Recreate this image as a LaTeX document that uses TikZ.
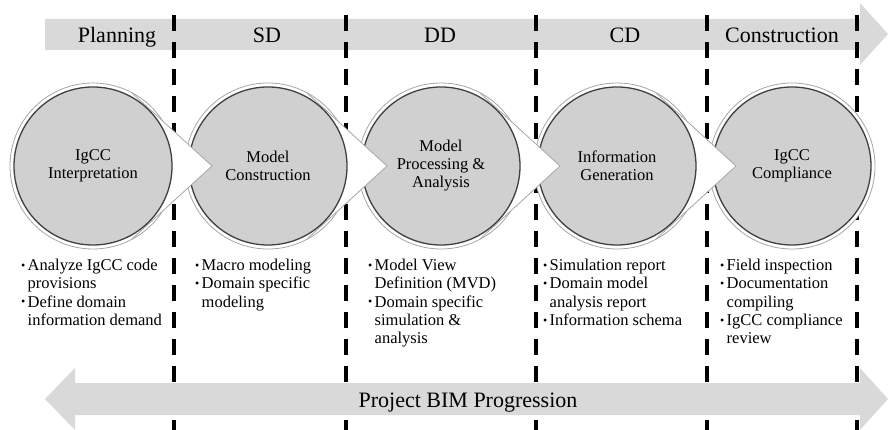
\documentclass[tikz,border=0pt]{standalone}
\usepackage{fontspec}
\setmainfont{Liberation Serif}
\usetikzlibrary{calc}
\definecolor{bandgray}{HTML}{D9D9D9}
\definecolor{diskgray}{HTML}{D0D0D0}
\definecolor{rimdark}{HTML}{404040}
\definecolor{ringgray}{HTML}{A6A6A6}
\newcommand{\mybul}{\makebox[6.5pt][l]{\raisebox{1.5pt}{\fontsize{12}{12}\selectfont •}}}
\newcommand{\myind}{\hspace*{6.5pt}}
\begin{document}
\begin{tikzpicture}[x=1pt,y=-1pt,
  ring/.style={circle, draw=ringgray, line width=0.8pt, fill=white, minimum size=166pt, inner sep=0pt},
  disk/.style={circle, draw=rimdark, line width=1.3pt, fill=diskgray, minimum size=158pt, inner sep=0pt, align=center, font=\fontsize{16.5}{18}\selectfont},
  chevedge/.style={draw=ringgray, line width=0.8pt, line join=miter},
  phase/.style={font=\fontsize{22}{24}\selectfont, anchor=base, inner sep=0pt},
  blist/.style={font=\fontsize{16.5}{18.3}\selectfont, align=left, anchor=north west, inner sep=0pt},
  divider/.style={line width=3.5pt, dash pattern=on 16pt off 11pt},
]
\useasboundingbox (0,0) rectangle (889,430);
% top phase arrow
\fill[bandgray] (45,19) -- (860,19) -- (860,3) -- (888,34) -- (860,65) -- (860,50) -- (45,50) -- cycle;
% dividers
\foreach \dx [count=\i] in {174,346,536,707,857}{
  \coordinate (dt\i) at (\dx,15);
  \coordinate (db\i) at (\dx,430);
  \draw[divider] (dt\i) -- (db\i);
}
% circle centres
\coordinate (p1) at (93,166);
\coordinate (p2) at (268,166);
\coordinate (p3) at (441,166);
\coordinate (p4) at (617,166);
\coordinate (p5) at (792,166);
% circle 5
\node[ring] (r5) at (p5) {};
\node[disk] (c5) at (p5) {IgCC\\Compliance};
% circle 4 + chevron 4
\node[ring] (r4) at (p4) {};
\fill[white] ($(p4)+(39,-73)$) -- ($(p4)+(119,0)$) -- ($(p4)+(39,73)$) -- ($(p4)+(30,0)$) -- cycle;
\draw[chevedge] ($(p4)+(39,-73)$) -- ($(p4)+(119,0)$) -- ($(p4)+(39,73)$);
\node[disk] (c4) at (p4) {Information\\Generation};
% circle 3 + chevron 3
\node[ring] (r3) at (p3) {};
\fill[white] ($(p3)+(39,-73)$) -- ($(p3)+(119,0)$) -- ($(p3)+(39,73)$) -- ($(p3)+(30,0)$) -- cycle;
\draw[chevedge] ($(p3)+(39,-73)$) -- ($(p3)+(119,0)$) -- ($(p3)+(39,73)$);
\node[disk] (c3) at (p3) {Model\\Processing \&\\Analysis};
% circle 2 + chevron 2
\node[ring] (r2) at (p2) {};
\fill[white] ($(p2)+(39,-73)$) -- ($(p2)+(119,0)$) -- ($(p2)+(39,73)$) -- ($(p2)+(30,0)$) -- cycle;
\draw[chevedge] ($(p2)+(39,-73)$) -- ($(p2)+(119,0)$) -- ($(p2)+(39,73)$);
\node[disk] (c2) at (p2) {Model\\Construction};
% circle 1 + chevron 1
\node[ring] (r1) at (p1) {};
\fill[white] ($(p1)+(39,-73)$) -- ($(p1)+(119,0)$) -- ($(p1)+(39,73)$) -- ($(p1)+(30,0)$) -- cycle;
\draw[chevedge] ($(p1)+(39,-73)$) -- ($(p1)+(119,0)$) -- ($(p1)+(39,73)$);
\node[disk] (c1) at (p1) {IgCC\\Interpretation};
% bottom double arrow
\fill[bandgray] (45,399) -- (75,368) -- (75,383) -- (860,383) -- (860,368) -- (888,399) -- (860,430) -- (860,415) -- (75,415) -- (75,430) -- cycle;
% phase labels
\node[phase] (h1) at (117,43) {Planning};
\node[phase] (h2) at (267,43) {SD};
\node[phase] (h3) at (440,43) {DD};
\node[phase] (h4) at (625,43) {CD};
\node[phase] (h5) at (782,43) {Construction};
\node[phase] (bim) at (468,407) {Project BIM Progression};
% bullet lists
\node[blist] (l1) at (21,259) {\mybul Analyze IgCC code\\\myind provisions\\\mybul Define domain\\\myind information demand};
\node[blist] (l2) at (195,259) {\mybul Macro modeling\\\mybul Domain specific\\\myind modeling};
\node[blist] (l3) at (368,259) {\mybul Model View\\\myind Definition (MVD)\\\mybul Domain specific\\\myind simulation \&\\\myind analysis};
\node[blist] (l4) at (543,259) {\mybul Simulation report\\\mybul Domain model\\\myind analysis report\\\mybul Information schema};
\node[blist] (l5) at (720,259) {\mybul Field inspection\\\mybul Documentation\\\myind compiling\\\mybul IgCC compliance\\\myind review};
\end{tikzpicture}
\end{document}
